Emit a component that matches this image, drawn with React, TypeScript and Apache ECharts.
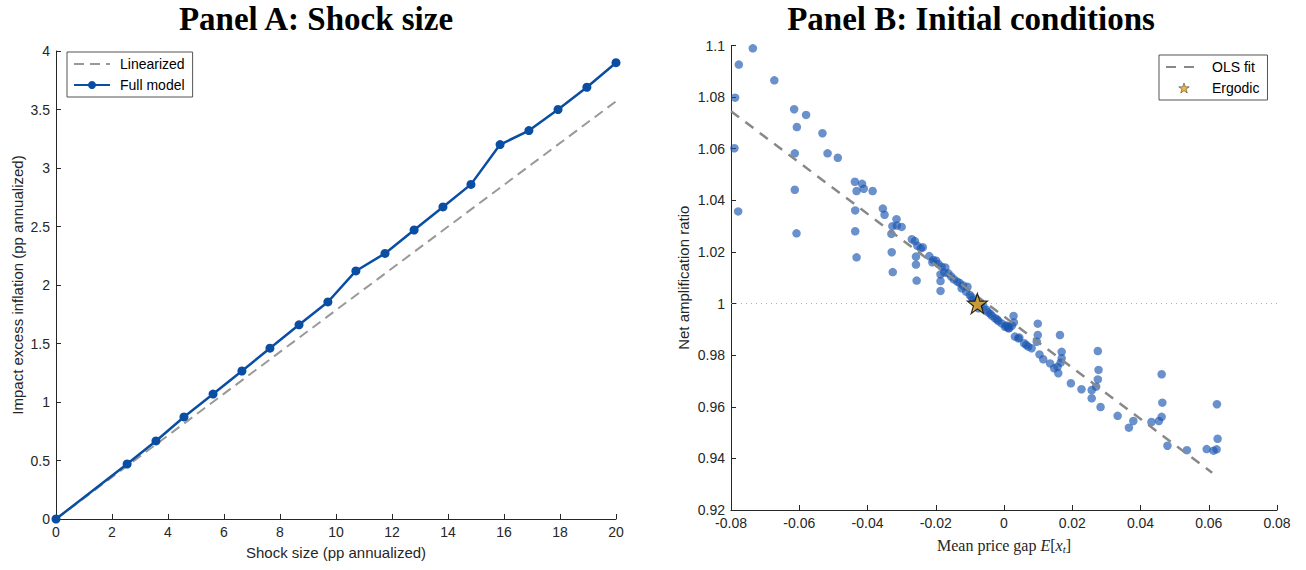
import { useEffect, useRef } from "react";
import * as echarts from "echarts";

// Panel A: shock size
const shockSize = [0, 2.54, 3.57, 4.57, 5.61, 6.64, 7.64, 8.68, 9.71, 10.71, 11.75, 12.79, 13.82, 14.82, 15.86, 16.89, 17.93, 18.96, 20];
const fullModel = [0, 0.47, 0.667, 0.872, 1.068, 1.265, 1.46, 1.66, 1.855, 2.12, 2.27, 2.47, 2.667, 2.86, 3.2, 3.32, 3.5, 3.69, 3.9];
const linearShock = [0, 20];
const linearized = [0, 3.57];
const xTicksA = { min: 0, max: 20, interval: 2 };
const yTicksA = { min: 0, max: 4, interval: 0.5 };

// Panel B: initial conditions
const priceGap = [
  -0.0736, -0.0777, -0.0673, -0.0788, -0.0615, -0.058, -0.0607, -0.0532, -0.079, -0.0613,
  -0.0517, -0.0487, -0.0613, -0.0779, -0.0608, -0.0437, -0.0416, -0.0432, -0.0411, -0.0385,
  -0.0436, -0.0355, -0.035, -0.0436, -0.0432, -0.0315, -0.0327, -0.0314, -0.03, -0.033,
  -0.0329, -0.0326, -0.027, -0.0261, -0.0254, -0.0238, -0.0244, -0.0258, -0.0258, -0.0256,
  -0.0219, -0.0207, -0.0199, -0.0192, -0.0183, -0.0172, -0.0186, -0.0186, -0.0186, -0.0163,
  -0.0147, -0.0137, -0.0124, -0.0107, -0.0111, -0.01, -0.009, -0.0075, -0.006, -0.0051,
  -0.0046, -0.0026, -0.0016, -0.0007, 0.0003, 0.0013, 0.0023, 0.0028, 0.0029, 0.0032,
  0.0042, 0.0059, 0.0071, 0.0081, 0.0099, 0.0099, 0.0096, 0.0104, 0.0164, 0.0115,
  0.0169, 0.0169, 0.0166, 0.0135, 0.0147, 0.0157, 0.0159, 0.0196, 0.0227, 0.0257,
  0.027, 0.0257, 0.0283, 0.0275, 0.0277, 0.0275, 0.0333, 0.0366, 0.0379, 0.0432,
  0.0454, 0.0462, 0.0464, 0.0462, 0.0479, 0.0536, 0.0594, 0.0614, 0.0623, 0.0626,
  0.0624, -0.0155, -0.013, -0.0085, -0.0068, -0.004, -0.0035, -0.002, 0.0006, -0.0095,
  -0.012, -0.0175, -0.021, 0.0045, 0.0065, 0.0015, 0.001
];
const amplification = [
  1.0989, 1.0926, 1.0865, 1.0798, 1.0753, 1.0731, 1.0684, 1.066, 1.0602, 1.0582,
  1.0582, 1.0565, 1.0441, 1.0357, 1.0272, 1.0472, 1.0464, 1.0436, 1.0445, 1.0436,
  1.0361, 1.0368, 1.0344, 1.028, 1.0179, 1.0327, 1.03, 1.0302, 1.0297, 1.027,
  1.0199, 1.0122, 1.0249, 1.0242, 1.0224, 1.0218, 1.0214, 1.0182, 1.0151, 1.0089,
  1.0184, 1.0169, 1.0166, 1.0153, 1.0143, 1.014, 1.0113, 1.0087, 1.0049, 1.0117,
  1.0094, 1.0085, 1.0059, 1.0065, 1.0046, 1.0033, 1.0014, 0.9982, 0.9988, 0.9975,
  0.9966, 0.9943, 0.9932, 0.9923, 0.991, 0.9904, 0.9914, 0.9952, 0.9927, 0.9872,
  0.9865, 0.9846, 0.9833, 0.9827, 0.9922, 0.9878, 0.9852, 0.9803, 0.9878, 0.9784,
  0.9813, 0.9788, 0.9771, 0.9768, 0.9749, 0.9755, 0.973, 0.9691, 0.9668, 0.9665,
  0.9678, 0.9633, 0.9599, 0.9816, 0.9743, 0.9706, 0.9565, 0.9519, 0.9545, 0.9541,
  0.9545, 0.9561, 0.9616, 0.9726, 0.9449, 0.9432, 0.9436, 0.943, 0.9435, 0.9476,
  0.961, 1.0105, 1.008, 1.0005, 0.9995, 0.996, 0.9952, 0.9938, 0.9915, 1.0025,
  1.007, 1.012, 1.016, 0.9868, 0.984, 0.9905, 0.9912
];
const olsX = [-0.08, 0.061];
const olsY = [1.0745, 0.9344];
const ergodicX = [-0.0078];
const ergodicY = [1.0];
const refLineX = [-0.08, 0.08];
const refLineY = [1, 1];
const xTicksB = { min: -0.08, max: 0.08, interval: 0.02 };
const yTicksB = { min: 0.92, max: 1.1, interval: 0.02 };

const STAR = "path://M50,2 L61.8,36.2 L97.6,36.2 L68.6,57.6 L79.6,92 L50,71 L20.4,92 L31.4,57.6 L2.4,36.2 L38.2,36.2 Z";
const SANS = "Liberation Sans";
const SERIF = "Liberation Serif";
const AX = "#262626";
const GOLD = "#e8a518";

const zip = (xs: number[], ys: number[]) => xs.map((x, i) => [x, ys[i]]);

function axisCommon() {
  return {
    axisLine: { show: true, onZero: false, lineStyle: { color: AX, width: 1 } },
    axisTick: { show: true, inside: true, length: 5, lineStyle: { color: AX } },
    axisLabel: { color: AX, fontFamily: SANS, fontSize: 14, margin: 6 },
    splitLine: { show: false },
  };
}

export default function App() {
  const ref = useRef<HTMLDivElement>(null);
  useEffect(() => {
    if (!ref.current) return;
    const chart = echarts.init(ref.current, undefined, { renderer: "svg" });
    const fmt2 = (v: number) => String(+v.toFixed(2));
    const legendBase = {
      orient: "vertical", borderColor: "#555", borderWidth: 1, itemGap: 7,
      itemWidth: 36, itemHeight: 10, symbolKeepAspect: true,
      textStyle: { fontFamily: SANS, fontSize: 14, color: "#000", padding: [0, 0, 0, 5] },
    };
    chart.setOption({
      animation: false,
      backgroundColor: "#ffffff",
      grid: [
        { left: 56, top: 51, width: 560, height: 468 },
        { left: 731, top: 45.5, width: 546, height: 464.5 },
      ],
      xAxis: [
        {
          gridIndex: 0, type: "value", ...xTicksA, ...axisCommon(),
          name: "Shock size (pp annualized)", nameLocation: "middle", nameGap: 26,
          nameTextStyle: { fontFamily: SANS, fontSize: 15, color: AX },
        },
        {
          gridIndex: 1, type: "value", ...xTicksB, ...axisCommon(),
          axisLabel: { ...axisCommon().axisLabel, formatter: fmt2 },
          name: "Mean price gap {i|E}[{i|x}{s|t}]", nameLocation: "middle", nameGap: 26,
          nameTextStyle: {
            fontFamily: SERIF, fontSize: 16, color: AX,
            rich: {
              i: { fontFamily: SERIF, fontSize: 16, fontStyle: "italic", color: AX },
              s: { fontFamily: SERIF, fontSize: 11, fontStyle: "italic", color: AX, verticalAlign: "bottom", padding: [7, 0, 0, 0] },
            },
          },
        },
      ],
      yAxis: [
        {
          gridIndex: 0, type: "value", ...yTicksA, ...axisCommon(),
          name: "Impact excess inflation (pp annualized)", nameLocation: "middle", nameGap: 31,
          nameTextStyle: { fontFamily: SANS, fontSize: 15, color: AX },
        },
        {
          gridIndex: 1, type: "value", ...yTicksB, ...axisCommon(),
          axisLabel: { ...axisCommon().axisLabel, formatter: fmt2 },
          name: "Net amplification ratio", nameLocation: "middle", nameGap: 40,
          nameTextStyle: { fontFamily: SANS, fontSize: 15, color: AX },
        },
      ],
      legend: [
        {
          ...legendBase,
          data: [
            { name: "Linearized", itemStyle: { opacity: 0 } },
            { name: "Full model" },
          ],
          left: 67, top: 52, padding: [5, 8, 5, 6],
        },
        {
          ...legendBase,
          data: [
            { name: "OLS fit", itemStyle: { opacity: 0 } },
            { name: "Ergodic", icon: STAR, itemStyle: { color: GOLD, borderColor: "#000", borderWidth: 0.5 } },
          ],
          left: 1159, top: 55, padding: [5, 8, 5, 6],
        },
      ],
      graphic: [
        { type: "text", x: 316, y: 2, style: { text: "Panel A: Shock size", font: "bold 33px 'Liberation Serif'", fill: "#000", align: "center", textAlign: "center" } },
        { type: "text", x: 971, y: 2, style: { text: "Panel B: Initial conditions", font: "bold 33px 'Liberation Serif'", fill: "#000", align: "center", textAlign: "center" } },
      ],
      series: [
        {
          name: "Linearized", type: "line", xAxisIndex: 0, yAxisIndex: 0,
          data: zip(linearShock, linearized), symbol: "none",
          lineStyle: { color: "#999999", width: 2, type: [10, 6] }, itemStyle: { color: "#999999" }, z: 2,
        },
        {
          name: "Full model", type: "line", xAxisIndex: 0, yAxisIndex: 0,
          data: zip(shockSize, fullModel), symbol: "circle", symbolSize: 9,
          lineStyle: { color: "#0a4ea3", width: 2.5 }, itemStyle: { color: "#0a4ea3" }, z: 3,
        },
        {
          name: "ref", type: "line", xAxisIndex: 1, yAxisIndex: 1, silent: true,
          data: zip(refLineX, refLineY), symbol: "none",
          lineStyle: { color: "#aaaaaa", width: 1, type: [1, 4] }, z: 1,
        },
        {
          name: "Samples", type: "scatter", xAxisIndex: 1, yAxisIndex: 1,
          data: zip(priceGap, amplification), symbol: "circle", symbolSize: 8.5,
          itemStyle: { color: "#1a56b0", opacity: 0.65 }, z: 2,
        },
        {
          name: "OLS fit", type: "line", xAxisIndex: 1, yAxisIndex: 1,
          data: zip(olsX, olsY), symbol: "none",
          lineStyle: { color: "#888888", width: 2.5, type: [10, 8] }, itemStyle: { color: "#999999" }, z: 3,
        },
        {
          name: "Ergodic", type: "scatter", xAxisIndex: 1, yAxisIndex: 1,
          data: zip(ergodicX, ergodicY), symbol: STAR, symbolSize: 20,
          itemStyle: { color: GOLD, borderColor: "#000", borderWidth: 1.2 }, z: 4,
        },
      ],
    });
    return () => chart.dispose();
  }, []);
  return <div ref={ref} style={{ position: "fixed", left: 0, top: 0, width: 1306, height: 570 }} />;
}
